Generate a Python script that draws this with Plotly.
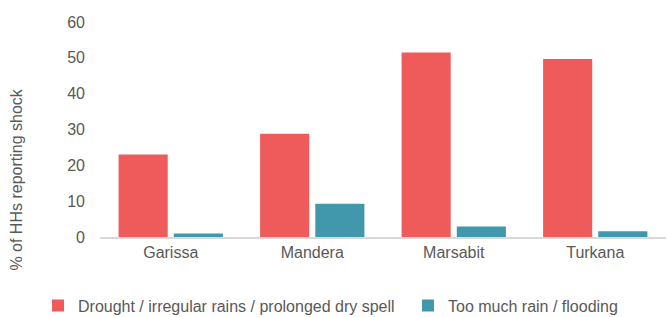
import plotly.graph_objects as go

categories = ["Garissa", "Mandera", "Marsabit", "Turkana"]
drought = [23.0, 28.8, 51.5, 49.7]
flooding = [1.0, 9.3, 2.9, 1.6]
series_names = ["Drought / irregular rains / prolonged dry spell", "Too much rain / flooding"]
y_ticks = [0, 10, 20, 30, 40, 50, 60]

FONT = "Liberation Sans, Arial, sans-serif"
GREY = "#595959"
FS = 16

fig = go.Figure()
fig.add_trace(go.Bar(x=categories, y=drought, name=series_names[0], legend="legend",
                     marker=dict(color="#EF5A5A", line=dict(width=0))))
fig.add_trace(go.Bar(x=categories, y=flooding, name=series_names[1], legend="legend2",
                     marker=dict(color="#4198AC", line=dict(width=0))))

leg_common = dict(orientation="h", xanchor="left", y=-0.319, yanchor="middle",
                  font=dict(size=FS, color=GREY), itemwidth=30,
                  bgcolor="rgba(0,0,0,0)")

fig.update_layout(
    width=667, height=317,
    margin=dict(l=100, r=1, t=22, b=80, autoexpand=False),
    paper_bgcolor="white", plot_bgcolor="white",
    barmode="group", bargap=0.22, bargroupgap=0.11,
    font=dict(family=FONT, size=FS, color=GREY),
    showlegend=True,
    legend=dict(x=(38 - 100) / 566, **leg_common),
    legend2=dict(x=(408 - 100) / 566, **leg_common),
    xaxis=dict(showline=True, linecolor="#D9D9D9", linewidth=1.5, ticks="",
               tickfont=dict(size=FS, color=GREY), showgrid=False),
    yaxis=dict(range=[0, 60], tickvals=y_ticks, showgrid=False, zeroline=False,
               showline=False, ticks="", ticklen=0, ticklabelstandoff=14,
               tickfont=dict(size=FS, color=GREY)),
)
fig.add_annotation(text="% of HHs reporting shock", xref="paper", yref="paper",
                   x=-0.147, y=0.266, textangle=-90, showarrow=False,
                   xanchor="center", yanchor="middle",
                   font=dict(size=FS, color=GREY, family=FONT))
fig.write_html("out.html", config={"displayModeBar": False},
               post_script="document.body.style.margin='0px';document.body.style.overflow='hidden';")
